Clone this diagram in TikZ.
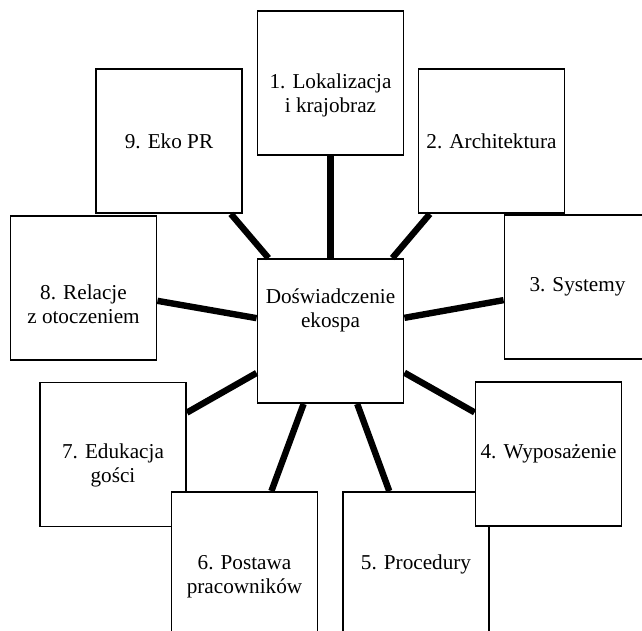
\documentclass[tikz,border=0pt]{standalone}
\usepackage{fontspec}
\setmainfont{Liberation Serif}
\newfontfamily\boxfont{Liberation Serif}
\tikzset{
  box/.style = {draw=black, fill=white, line width=1.4pt, inner sep=0pt,
    minimum width=109.5pt, minimum height=108pt},% one square
  boxtext/.style = {align=center, inner sep=0pt,
    font=\boxfont\fontsize{15.9}{18}\selectfont},
  spoke/.style = {line width=4.8pt},
}
\begin{document}
\begin{tikzpicture}[x=0.75pt,y=-0.75pt]
\useasboundingbox (0,0) rectangle (642,631);
% centre and the nine squares round it
\node [box, label={[boxtext, yshift=15.75pt]center:Doświadczenie\\ekospa}] (eko) at (330.5,331) {};
\node [box, label={[boxtext, yshift=-9pt]center:1. Lokalizacja\\i krajobraz}] (lok) at (330.5,83) {};
\node [box, label={[boxtext]center:2. Architektura}] (arch) at (491.5,141) {};
\node [box, label={[boxtext]center:3. Systemy}] (sys) at (577.5,287) {};
\node [box, label={[boxtext]center:5. Procedury}] (proc) at (416,564) {};
\node [box, label={[boxtext]center:4. Wyposażenie}] (wyp) at (548.5,454) {};
\node [box, label={[boxtext, yshift=-8.25pt]center:7. Edukacja\\gości}] (edu) at (113,454.5) {};
\node [box, label={[boxtext, yshift=-9.75pt]center:6. Postawa\\pracowników}] (post) at (244.5,564) {};
\node [box, label={[boxtext, yshift=-12pt]center:8. Relacje\\z otoczeniem}] (rel) at (83.5,288) {};
\node [box, label={[boxtext]center:9. Eko PR}] (pr) at (169,141) {};
% spokes
\foreach \n in {lok,arch,sys,wyp,proc,post,edu,rel,pr}
  \draw [spoke] (eko) -- (\n);
\end{tikzpicture}
\end{document}
